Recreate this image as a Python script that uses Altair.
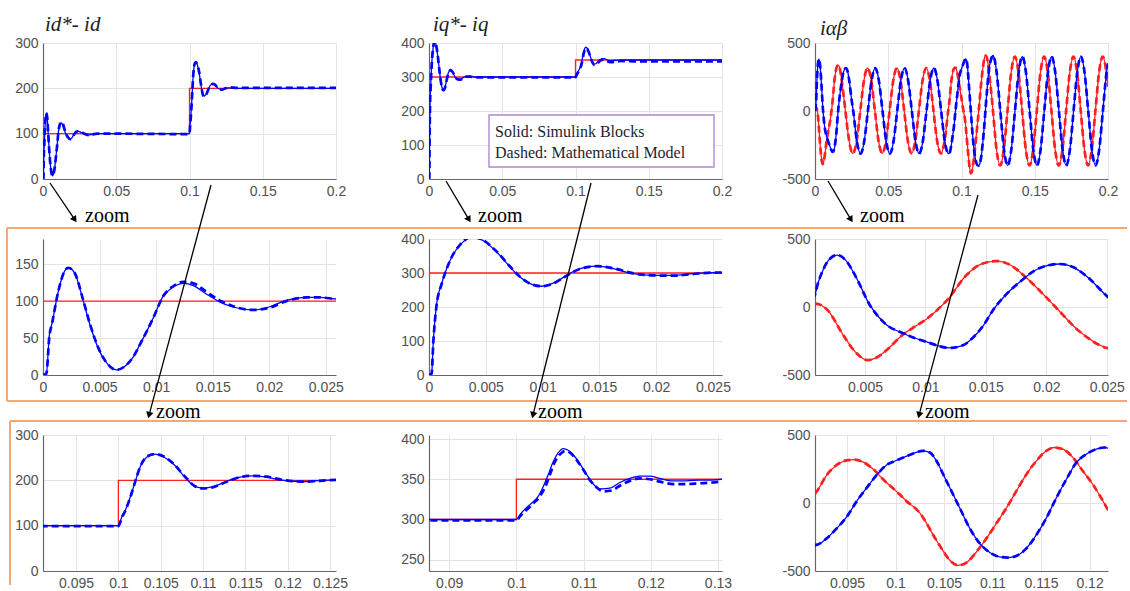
import math
import altair as alt
import pandas as pd

# ---------------- data: (time [s], current [A]) ----------------
ID_REF = [(0, 100), (0.1, 100), (0.1, 200), (0.2, 200)]
ID_SIM = [(0, 0), (0.0003, 2), (0.00056, 54), (0.0008, 70), (0.00135, 113), (0.0018, 137),
          (0.00224, 145), (0.0028, 138), (0.00356, 100), (0.00415, 68), (0.005, 32), (0.0057, 15),
          (0.0065, 7), (0.0074, 14), (0.008, 25), (0.00856, 41), (0.0092, 60), (0.00974, 77),
          (0.0106, 106), (0.0115, 119), (0.0124, 124), (0.0133, 121), (0.0144, 110), (0.0156, 99),
          (0.0168, 92), (0.0186, 88), (0.02, 92), (0.0215, 101), (0.0233, 105), (0.0244, 105),
          (0.0258, 103), (0.0275, 101), (0.0295, 98), (0.031, 97), (0.0335, 98), (0.037, 100),
          (0.045, 100), (0.1, 100), (0.1002, 108), (0.1004, 119), (0.1008, 133), (0.1014, 163),
          (0.10197, 196), (0.10256, 229), (0.10335, 251), (0.10433, 258), (0.10531, 252),
          (0.1065, 236), (0.10787, 207), (0.10906, 186), (0.11004, 183), (0.11122, 186),
          (0.1128, 198), (0.11437, 207), (0.11594, 210), (0.11752, 207), (0.1191, 201),
          (0.12067, 198), (0.12224, 197), (0.12382, 200), (0.1258, 201), (0.128, 201),
          (0.132, 200), (0.2, 200)]
ID_MODEL = [(0, 0), (0.0003, 2), (0.00056, 52), (0.0008, 70), (0.00135, 113), (0.0018, 137),
            (0.00224, 145), (0.0028, 138), (0.00356, 101), (0.00415, 69), (0.005, 33), (0.0057, 15),
            (0.0065, 7), (0.0074, 14), (0.008, 25), (0.00856, 41), (0.0092, 60), (0.00974, 77),
            (0.0106, 106), (0.0115, 120), (0.0124, 126), (0.0133, 124), (0.0144, 113), (0.0156, 101),
            (0.0168, 93), (0.0186, 88), (0.02, 91), (0.0215, 100), (0.0233, 105), (0.0244, 105),
            (0.0258, 103), (0.0275, 101), (0.0295, 98), (0.031, 97), (0.0335, 98), (0.037, 100),
            (0.045, 100), (0.1, 99), (0.1002, 106), (0.1004, 117), (0.1008, 132), (0.1014, 162),
            (0.10197, 196), (0.10256, 229), (0.10335, 252), (0.10433, 258), (0.10531, 253),
            (0.1065, 237), (0.10787, 208), (0.10906, 187), (0.11004, 182), (0.11122, 185),
            (0.1128, 197), (0.11437, 207), (0.11594, 210), (0.11752, 208), (0.1191, 202),
            (0.12067, 198), (0.12224, 197), (0.12382, 199), (0.1258, 201), (0.128, 202),
            (0.132, 201), (0.2, 201)]

IQ_REF = [(0, 300), (0.1, 300), (0.1, 350), (0.2, 350)]
IQ_SIM = [(0, 0), (0.00023, 5), (0.00038, 99), (0.00067, 208), (0.00111, 268), (0.00141, 300),
          (0.002, 347), (0.00273, 382), (0.00376, 405), (0.00478, 395), (0.00596, 362),
          (0.00713, 318), (0.00801, 288), (0.00918, 265), (0.00992, 261), (0.01094, 270),
          (0.01212, 293), (0.01329, 313), (0.01476, 320), (0.01623, 313), (0.01799, 298),
          (0.01975, 293), (0.02151, 293), (0.02327, 298), (0.02503, 301), (0.0258, 302),
          (0.028, 302), (0.031, 300), (0.04, 300), (0.1, 300), (0.10054, 306), (0.10153, 315),
          (0.10252, 322), (0.10327, 329), (0.10401, 341), (0.10475, 356), (0.1055, 372),
          (0.10624, 383), (0.10698, 388), (0.10772, 386), (0.10871, 378), (0.1097, 366),
          (0.11069, 353), (0.11168, 342), (0.11267, 338), (0.11391, 339), (0.1154, 346),
          (0.11688, 351), (0.11837, 354), (0.11985, 354), (0.12134, 351), (0.12332, 348),
          (0.1253, 348), (0.12728, 349), (0.12926, 349), (0.1306, 350), (0.14, 350), (0.2, 350)]
IQ_MODEL = [(0, 0), (0.00023, 4), (0.00038, 97), (0.00067, 206), (0.00111, 267), (0.00141, 299),
            (0.002, 347), (0.00273, 383), (0.00376, 406), (0.00478, 396), (0.00596, 363),
            (0.00713, 319), (0.00801, 289), (0.00918, 265), (0.00992, 261), (0.01094, 269),
            (0.01212, 292), (0.01329, 312), (0.01476, 320), (0.01623, 314), (0.01799, 299),
            (0.01975, 293), (0.02151, 292), (0.02327, 297), (0.02503, 301), (0.0258, 301),
            (0.028, 301), (0.031, 299), (0.04, 299), (0.1, 299), (0.10054, 304), (0.10153, 312),
            (0.10252, 320), (0.10351, 329), (0.10426, 340), (0.105, 356), (0.10574, 372),
            (0.10649, 381), (0.10723, 385), (0.10797, 383), (0.10896, 374), (0.10995, 362),
            (0.11094, 349), (0.11193, 340), (0.11292, 335), (0.11416, 336), (0.1154, 342),
            (0.11688, 348), (0.11837, 351), (0.11985, 350), (0.12134, 347), (0.12332, 344),
            (0.1253, 344), (0.12728, 345), (0.12926, 346), (0.1306, 347), (0.14, 346), (0.2, 346)]

I_ALPHA = [(0, 0), (0.0009, 25), (0.0019, -22), (0.0032, -206), (0.0042, -330), (0.0052, -390),
           (0.006, -370), (0.0068, -316), (0.0081, -206), (0.0092, -140), (0.0101, -88),
           (0.011, -20), (0.0118, 51), (0.0134, 235), (0.0146, 315), (0.0159, 338), (0.0171, 305),
           (0.0181, 235), (0.0194, 125), (0.0206, 15), (0.0228, -184), (0.025, -301),
           (0.0259, -312), (0.0284, -223), (0.0309, 0), (0.0334, 223), (0.0359, 316),
           (0.0384, 223), (0.0409, 0), (0.0434, -223), (0.0459, -312), (0.0484, -223),
           (0.0509, 0), (0.0534, 223), (0.0559, 316), (0.0584, 223), (0.0609, 0), (0.0634, -223),
           (0.0659, -312), (0.0684, -223), (0.0709, 0), (0.0734, 223), (0.0759, 316),
           (0.0784, 223), (0.0809, 0), (0.0834, -223), (0.0859, -312), (0.0884, -223),
           (0.0909, 0), (0.09195, 92), (0.0929, 205), (0.09394, 280), (0.095, 314),
           (0.09582, 319), (0.09668, 300), (0.09771, 248), (0.09874, 173), (0.09977, 106),
           (0.10045, 62), (0.10114, 12), (0.10182, -25), (0.10251, -74), (0.1032, -149),
           (0.10388, -235), (0.10474, -334), (0.1056, -421), (0.10645, -458), (0.10731, -438),
           (0.10834, -359), (0.10937, -260), (0.1104, -149), (0.11143, -37), (0.11245, 87),
           (0.11348, 210), (0.11451, 309), (0.11554, 384), (0.1164, 408), (0.11726, 396),
           (0.11829, 334), (0.11931, 235), (0.12034, 136), (0.1212, 37), (0.12199, -62),
           (0.1239, -283), (0.1264, -400), (0.1289, -283), (0.1314, 0), (0.1339, 283),
           (0.1364, 400), (0.1389, 283), (0.1414, 0), (0.1439, -283), (0.1464, -400),
           (0.1489, -283), (0.1514, 0), (0.1539, 283), (0.1564, 400), (0.1589, 283),
           (0.1614, 0), (0.1639, -283), (0.1664, -400), (0.1689, -283), (0.1714, 0),
           (0.1739, 283), (0.1764, 400), (0.1789, 283), (0.1814, 0), (0.1839, -283),
           (0.1864, -400), (0.1889, -283), (0.1914, 0), (0.1939, 283), (0.1964, 400),
           (0.1989, 283), (0.2, 180)]
I_BETA = [(0, 0), (0.00086, 88), (0.0011, 170), (0.0015, 265), (0.002, 345), (0.0027, 382),
          (0.0034, 345), (0.0043, 213), (0.0054, 15), (0.0061, -70), (0.0068, -132),
          (0.0081, -191), (0.0101, -257), (0.012, -301), (0.0131, -282), (0.0139, -228),
          (0.0148, -135), (0.0156, -22), (0.0166, 85), (0.0178, 184), (0.0194, 285),
          (0.0211, 316), (0.0223, 290), (0.0234, 221), (0.025, 81), (0.0261, 0),
          (0.0286, -223), (0.0311, -314), (0.0336, -223), (0.0361, 0), (0.0386, 223),
          (0.0411, 316), (0.0436, 223), (0.0461, 0), (0.0486, -223), (0.0511, -314),
          (0.0536, -223), (0.0561, 0), (0.0586, 223), (0.0611, 316), (0.0636, 223), (0.0661, 0),
          (0.0686, -223), (0.0711, -314), (0.0736, -223), (0.0761, 0), (0.0786, 223),
          (0.0811, 316), (0.0836, 223), (0.0861, 0), (0.0886, -223), (0.0911, -314),
          (0.09195, -306), (0.0929, -260), (0.09394, -186), (0.095, -99), (0.09599, 12),
          (0.09702, 111), (0.09805, 205), (0.09908, 280), (0.09994, 309), (0.1008, 334),
          (0.10182, 364), (0.10285, 384), (0.10354, 371), (0.10422, 309), (0.10508, 186),
          (0.10594, 62), (0.10662, -37), (0.10765, -186), (0.10868, -297), (0.10971, -364),
          (0.11074, -396), (0.1116, -401), (0.11245, -389), (0.11348, -334), (0.11451, -235),
          (0.11554, -111), (0.11657, 37), (0.1176, 173), (0.11863, 297), (0.11966, 359),
          (0.12069, 396), (0.12154, 408), (0.12199, 401), (0.124, 283), (0.1265, 0),
          (0.129, -283), (0.1315, -400), (0.134, -283), (0.1365, 0), (0.139, 283),
          (0.1415, 400), (0.144, 283), (0.1465, 0), (0.149, -283), (0.1515, -400),
          (0.154, -283), (0.1565, 0), (0.159, 283), (0.1615, 400), (0.164, 283), (0.1665, 0),
          (0.169, -283), (0.1715, -400), (0.174, -283), (0.1765, 0), (0.179, 283),
          (0.1815, 400), (0.184, 283), (0.1865, 0), (0.189, -283), (0.1915, -400),
          (0.194, -283), (0.1965, 0), (0.199, 283), (0.2, 350)]

# axis ticks per panel
T_FULL = [0, 0.05, 0.1, 0.15, 0.2]
T_START = [0, 0.005, 0.01, 0.015, 0.02, 0.025]
T_START_AB = [0.005, 0.01, 0.015, 0.02, 0.025]
T_STEP_D = [0.095, 0.1, 0.105, 0.11, 0.115, 0.12, 0.125]
T_STEP_Q = [0.09, 0.1, 0.11, 0.12, 0.13]
T_STEP_AB = [0.095, 0.1, 0.105, 0.11, 0.115, 0.12]

# ---------------- styling / layout ----------------
RED = "#ff1f1f"
BLUE = "#0000ff"
ORANGE = "#f6a772"
W, H = 293, 136
COL_X = [43, 429, 815]     # left edge of each column's plot area
ROW_Y = [43, 239, 435]     # top edge of each row's plot area
ONE = pd.DataFrame({"k": [0]})
MINUS = "replace(datum.label, '\u2212', '-')"
FMT = ".4~f"

SOLID = dict(strokeWidth=1.3)
DASHED = dict(strokeWidth=2.7, strokeDash=[7, 4])


def frame(points):
    df = pd.DataFrame(points, columns=["t", "v"])
    df["i"] = range(len(df))
    return df


def rule(x1, y1, x2, y2, color, width):
    def make(ox, oy):
        return alt.Chart(ONE).mark_rule(color=color, strokeWidth=width).encode(
            x=alt.value(x1 - ox), x2=alt.value(x2 - ox),
            y=alt.value(y1 - oy), y2=alt.value(y2 - oy))
    return make


def arrow(x1, y1, x2, y2):
    ang = math.degrees(math.atan2(x2 - x1, -(y2 - y1))) % 360
    length = math.hypot(x2 - x1, y2 - y1)
    hx = x2 - (x2 - x1) / length * 4
    hy = y2 - (y2 - y1) / length * 4

    def make_head(ox, oy):
        return alt.Chart(ONE).mark_point(shape="triangle-up", filled=True, color="black",
                                         opacity=1, size=55, angle=ang).encode(
            x=alt.value(hx - ox), y=alt.value(hy - oy))
    return [rule(x1, y1, hx, hy, "black", 1.3), make_head]


def text(label, x, y, **style):
    def make(ox, oy):
        return alt.Chart(ONE).mark_text(text=label, align="left", baseline="middle", **style).encode(
            x=alt.value(x - ox), y=alt.value(y - oy))
    return make


def box(x1, y1, x2, y2, stroke):
    def make(ox, oy):
        return alt.Chart(ONE).mark_rect(fill="white", stroke=stroke, strokeWidth=1.4).encode(
            x=alt.value(x1 - ox), x2=alt.value(x2 - ox),
            y=alt.value(y1 - oy), y2=alt.value(y2 - oy))
    return make


def page_pin(ox, oy):
    return alt.Chart(ONE).mark_rect(opacity=0).encode(
        x=alt.value(0 - ox), x2=alt.value(1128 - ox),
        y=alt.value(0 - oy), y2=alt.value(586 - oy))


def panel(series, xdom, xticks, ydom, yticks, row, col, extras=()):
    x = alt.X("t:Q", scale=alt.Scale(domain=xdom, nice=False, zero=False),
              axis=alt.Axis(values=xticks, format=FMT, labelExpr=MINUS, title=None))
    y = alt.Y("v:Q", scale=alt.Scale(domain=ydom, nice=False, zero=False),
              axis=alt.Axis(values=yticks, format=FMT, labelExpr=MINUS, title=None))
    layers = []
    for pts, color, style, interp in series:
        layers.append(alt.Chart(frame(pts)).mark_line(
            color=color, clip=True, interpolate=interp, **style).encode(
            x=x, y=y, order="i:Q"))
    ox, oy = COL_X[col], ROW_Y[row]
    for make in extras:
        layers.append(make(ox, oy))
    return alt.layer(*layers).properties(width=W, height=H)


def dq_series(ref, sim, model):
    return [(ref, RED, dict(strokeWidth=1.3), "linear"),
            (sim, BLUE, SOLID, "monotone"),
            (model, BLUE, DASHED, "monotone")]


AB_SERIES = [(I_ALPHA, RED, SOLID, "monotone"), (I_ALPHA, RED, DASHED, "monotone"),
             (I_BETA, BLUE, SOLID, "monotone"), (I_BETA, BLUE, DASHED, "monotone")]

TITLE = dict(font="Liberation Serif", fontSize=21, fontStyle="italic", color="#222222")
ZOOM = dict(font="Liberation Serif", fontSize=20, color="black")
LEGEND = dict(font="Liberation Serif", fontSize=16, color="#1e1e30")

# annotations shared across the grid: frames, zoom arrows and labels
decor = [
    rule(7, 228, 1127, 228, ORANGE, 2), rule(7, 401, 1127, 401, ORANGE, 2),
    rule(7, 228, 7, 401, ORANGE, 2),
    rule(10, 421, 1127, 421, ORANGE, 2), rule(10, 421, 10, 585, ORANGE, 2),
]
for a in [(50, 183, 77, 223), (446, 181, 471, 223), (828, 181, 853, 223),
          (211, 185, 148, 419), (591, 183, 532, 419), (978, 195, 918, 419)]:
    decor += arrow(*a)
for zx, zy in [(85, 216), (478, 216), (860, 216), (156, 412), (538, 412), (925, 412)]:
    decor.append(text("zoom", zx, zy, **ZOOM))

p1 = panel(dq_series(ID_REF, ID_SIM, ID_MODEL), [0, 0.2], T_FULL, [0, 300], [0, 100, 200, 300],
           0, 0, [page_pin, text("id*- id", 45, 25, **TITLE)])
p2 = panel(dq_series(IQ_REF, IQ_SIM, IQ_MODEL), [0, 0.2], T_FULL, [0, 400],
           [0, 100, 200, 300, 400], 0, 1,
           [text("iq*- iq", 433, 25, **TITLE),
            box(489, 115, 714, 167, "#b088d4"),
            text("Solid: Simulink Blocks", 495, 132, **LEGEND),
            text("Dashed: Mathematical Model", 495, 153, **LEGEND)])
p3 = panel(AB_SERIES, [0, 0.2], T_FULL, [-500, 500], [-500, 0, 500], 0, 2,
           [text("iαβ", 820, 29, **TITLE)])

p4 = panel(dq_series(ID_REF, ID_SIM, ID_MODEL), [0, 0.0259], T_START, [0, 184],
           [0, 50, 100, 150], 1, 0)
p5 = panel(dq_series(IQ_REF, IQ_SIM, IQ_MODEL), [0, 0.0258], T_START, [0, 400],
           [0, 100, 200, 300, 400], 1, 1)
p6 = panel(AB_SERIES, [0.00087, 0.0251], T_START_AB, [-500, 500], [-500, 0, 500], 1, 2)

p7 = panel(dq_series(ID_REF, ID_SIM, ID_MODEL), [0.0911, 0.1257], T_STEP_D, [0, 300],
           [0, 100, 200, 300], 2, 0)
p8 = panel(dq_series(IQ_REF, IQ_SIM, IQ_MODEL), [0.0870, 0.1306], T_STEP_Q, [236, 405],
           [250, 300, 350, 400], 2, 1)
p9 = panel(AB_SERIES, [0.0917, 0.1219], T_STEP_AB, [-500, 500], [-500, 0, 500], 2, 2, decor)

chart = alt.concat(p1, p2, p3, p4, p5, p6, p7, p8, p9, columns=3,
                   spacing={"row": 60, "column": 93}, bounds="flush").properties(
    padding=0
).configure_view(stroke=None).configure_axis(
    grid=True, gridColor="#e4e4e4", gridWidth=1,
    domainColor="#666666", domainWidth=1.2,
    labelColor="#505050", labelFont="Liberation Sans", labelFontSize=14,
    ticks=False, labelPadding=5, labelFlush=False, labelOverlap=False,
)

chart.save("out.html", embed_options={"renderer": "svg", "actions": False})
